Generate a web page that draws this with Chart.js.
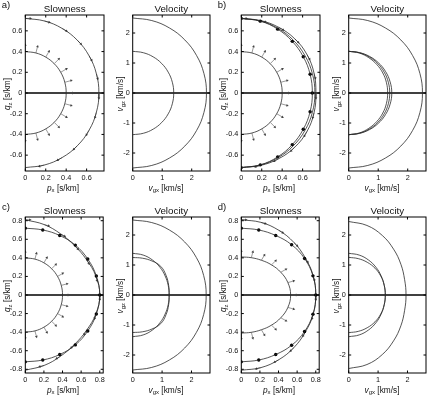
<!DOCTYPE html>
<html lang="en">
<head>
<meta charset="utf-8">
<title>Slowness and velocity</title>
<script src="https://cdn.jsdelivr.net/npm/chart.js"></script>
<style>
  html, body { margin: 0; padding: 0; background: #fff; }
  body { width: 432px; height: 396px; position: relative; overflow: hidden;
         font-family: "Liberation Sans", Arial, sans-serif; color: #111; }
  canvas { position: absolute; }
  .lbl { position: absolute; white-space: nowrap; line-height: 1; transform: translate(-50%, -50%); }
  .letter { font-size: 9.5px; }
  .title { font-size: 9.8px; }
  .xt { font-size: 8.3px; }
  .yt { font-size: 8.3px; transform: translate(-50%, -50%) rotate(-90deg); }
  sub { font-size: 72%; vertical-align: baseline; position: relative; top: 0.3em; }
</style>
</head>
<body>
<script>
    // sample angles of every curve, degrees from the px axis
    const angles = [90, 75, 60, 45, 30, 15, 0, -15, -30, -45, -60, -75, -90];

    // a) isotropic
    const aSlowP  = [0.40, 0.40, 0.40, 0.40, 0.40, 0.40, 0.40, 0.40, 0.40, 0.40, 0.40, 0.40, 0.40];
    const aSlowS  = [0.72, 0.72, 0.72, 0.72, 0.72, 0.72, 0.72, 0.72, 0.72, 0.72, 0.72, 0.72, 0.72];
    const aVelP   = [2.50, 2.50, 2.50, 2.50, 2.50, 2.50, 2.50, 2.50, 2.50, 2.50, 2.50, 2.50, 2.50];
    const aVelS   = [1.39, 1.39, 1.39, 1.39, 1.39, 1.39, 1.39, 1.39, 1.39, 1.39, 1.39, 1.39, 1.39];

    // b)
    const bSlowP  = [0.40, 0.40, 0.40, 0.40, 0.40, 0.40, 0.40, 0.40, 0.40, 0.40, 0.40, 0.40, 0.40];
    const bSlowS  = [0.72, 0.72, 0.72, 0.72, 0.72, 0.72, 0.72, 0.72, 0.72, 0.72, 0.72, 0.72, 0.72];
    const bSlowSH = [0.720, 0.718, 0.712, 0.705, 0.700, 0.697, 0.695, 0.697, 0.700, 0.705, 0.712, 0.718, 0.720];
    const bSlowSV = [0.720, 0.724, 0.732, 0.740, 0.742, 0.737, 0.730, 0.737, 0.742, 0.740, 0.732, 0.724, 0.720];
    const bVelP   = [2.50, 2.50, 2.50, 2.50, 2.50, 2.50, 2.50, 2.50, 2.50, 2.50, 2.50, 2.50, 2.50];
    const bVelS   = [1.39, 1.39, 1.39, 1.39, 1.39, 1.39, 1.39, 1.39, 1.39, 1.39, 1.39, 1.39, 1.39];
    const bVelSH  = [1.390, 1.395, 1.410, 1.425, 1.440, 1.452, 1.460, 1.452, 1.440, 1.425, 1.410, 1.395, 1.390];
    const bVelSV  = [1.390, 1.380, 1.360, 1.345, 1.335, 1.325, 1.320, 1.325, 1.335, 1.345, 1.360, 1.380, 1.390];

    // c)
    const cSlowP  = [0.40, 0.40, 0.40, 0.40, 0.40, 0.40, 0.40, 0.40, 0.40, 0.40, 0.40, 0.40, 0.40];
    const cSlowSH = [0.720, 0.725, 0.740, 0.760, 0.775, 0.790, 0.800, 0.790, 0.775, 0.760, 0.740, 0.725, 0.720];
    const cSlowSV = [0.810, 0.785, 0.760, 0.750, 0.760, 0.785, 0.800, 0.785, 0.760, 0.750, 0.760, 0.785, 0.810];
    const cVelP   = [2.50, 2.50, 2.50, 2.50, 2.50, 2.50, 2.50, 2.50, 2.50, 2.50, 2.50, 2.50, 2.50];
    const cVelSH  = [1.390, 1.378, 1.347, 1.310, 1.273, 1.250, 1.240, 1.250, 1.273, 1.310, 1.347, 1.378, 1.390];
    const cVelSV  = [1.250, 1.270, 1.310, 1.350, 1.310, 1.265, 1.240, 1.265, 1.310, 1.350, 1.310, 1.270, 1.250];

    // d)
    const dSlowP  = [0.410, 0.416, 0.432, 0.459, 0.490, 0.518, 0.530, 0.518, 0.490, 0.459, 0.432, 0.416, 0.410];
    const dSlowSH = [0.720, 0.725, 0.740, 0.765, 0.785, 0.797, 0.800, 0.797, 0.785, 0.765, 0.740, 0.725, 0.720];
    const dSlowSV = [0.810, 0.810, 0.805, 0.800, 0.795, 0.800, 0.800, 0.800, 0.795, 0.800, 0.805, 0.810, 0.810];
    const dVelP   = [2.45, 2.40, 2.29, 2.16, 2.05, 1.97, 1.95, 1.97, 2.05, 2.16, 2.29, 2.40, 2.45];
    const dVelSH  = [1.390, 1.378, 1.347, 1.310, 1.275, 1.252, 1.245, 1.252, 1.275, 1.310, 1.347, 1.378, 1.390];
    const dVelSV  = [1.255, 1.255, 1.260, 1.265, 1.260, 1.250, 1.245, 1.250, 1.260, 1.265, 1.260, 1.255, 1.255];

    // tick labels
    const slowXTicksTop = [0, 0.2, 0.4, 0.6];
    const slowYTicksTop = [-0.6, -0.4, -0.2, 0, 0.2, 0.4, 0.6];
    const slowXTicksBot = [0, 0.2, 0.4, 0.6, 0.8];
    const slowYTicksBot = [-0.8, -0.6, -0.4, -0.2, 0, 0.2, 0.4, 0.6, 0.8];
    const velXTicks = [0, 1, 2];
    const velYTicks = [-2, -1, 0, 1, 2];

    const FONT = '"Liberation Sans", Arial, sans-serif';
    const rad = d => d * Math.PI / 180;

    function curve(r) {
        return angles.map((t, i) => ({ x: r[i] * Math.cos(rad(t)), y: r[i] * Math.sin(rad(t)) }));
    }

    function line(r) {
        return { data: curve(r), showLine: true, borderColor: '#2a2a2a', borderWidth: 0.8,
                 pointRadius: 0, tension: 0.4 };
    }

    function dots(r) {
        return { data: curve(r), showLine: false, pointRadius: 1.7, pointBackgroundColor: '#000',
                 pointBorderWidth: 0 };
    }

    // small polarisation arrows: turn 0 = normal (P), -90 = along the curve (SV)
    function arrows(r, turn, len) {
        const pts = [], sizes = [], rots = [];
        angles.forEach((t, i) => {
            const x0 = r[i] * Math.cos(rad(t)), y0 = r[i] * Math.sin(rad(t));
            const phi = t + turn;
            pts.push({ x: x0, y: y0 },
                     { x: x0 + len * Math.cos(rad(phi)), y: y0 + len * Math.sin(rad(phi)) },
                     { x: null, y: null });
            sizes.push(0, 1.6, 0);
            rots.push(0, 90 - phi, 0);
        });
        return { data: pts, showLine: true, spanGaps: false, borderColor: '#555', borderWidth: 0.6,
                 tension: 0, pointStyle: 'triangle', pointRadius: sizes, pointRotation: rots,
                 pointBackgroundColor: '#444', pointBorderWidth: 0 };
    }

    // box, inward ticks and the thick zero line
    const frame = {
        id: 'frame',
        beforeDatasetsDraw(chart) {
            const { ctx, chartArea: a, scales: { y } } = chart;
            const y0 = y.getPixelForValue(0);
            ctx.save();
            ctx.strokeStyle = '#000';
            ctx.lineWidth = 1.6;
            ctx.beginPath();
            ctx.moveTo(a.left, y0);
            ctx.lineTo(a.right, y0);
            ctx.stroke();
            ctx.restore();
        },
        afterDraw(chart) {
            const { ctx, chartArea: a, scales: { x, y } } = chart;
            ctx.save();
            ctx.strokeStyle = '#000';
            ctx.lineWidth = 1;
            ctx.strokeRect(a.left, a.top, a.right - a.left, a.bottom - a.top);
            ctx.beginPath();
            x.ticks.forEach(t => {
                const p = x.getPixelForValue(t.value);
                ctx.moveTo(p, a.bottom); ctx.lineTo(p, a.bottom - 2.5);
                ctx.moveTo(p, a.top); ctx.lineTo(p, a.top + 2.5);
            });
            y.ticks.forEach(t => {
                const p = y.getPixelForValue(t.value);
                ctx.moveTo(a.left, p); ctx.lineTo(a.left + 2.5, p);
                ctx.moveTo(a.right, p); ctx.lineTo(a.right - 2.5, p);
            });
            ctx.stroke();
            ctx.restore();
        }
    };

    function axis(min, max, ticks, fit) {
        return {
            type: 'linear', min: min, max: max,
            grid: { display: false, drawTicks: false },
            border: { display: false },
            afterBuildTicks: s => { s.ticks = ticks.map(v => ({ value: v })); },
            afterFit: fit,
            ticks: { autoSkip: false, maxRotation: 0, padding: 3, color: '#111',
                     font: { family: FONT, size: 7.3 }, callback: v => String(v) }
        };
    }

    function makeChart(left, top, w, o) {
        const cv = document.createElement('canvas');
        cv.width = w; cv.height = 196;
        cv.style.left = left + 'px'; cv.style.top = top + 'px';
        document.body.appendChild(cv);
        new Chart(cv, {
            type: 'scatter',
            data: { datasets: o.datasets },
            options: {
                responsive: false, animation: false, devicePixelRatio: 1, events: [],
                layout: { padding: { top: 15, right: o.padRight, left: 0, bottom: 0 } },
                plugins: { legend: { display: false }, tooltip: { enabled: false } },
                scales: {
                    x: axis(0, o.xMax, o.xTicks, s => { s.height = 196 - 15 - o.boxH; }),
                    y: axis(-o.yMax, o.yMax, o.yTicks, s => { s.width = o.leftW; })
                }
            },
            plugins: [frame]
        });
    }

    function label(html, cls, x, y) {
        const d = document.createElement('div');
        d.className = 'lbl ' + cls;
        d.innerHTML = html;
        d.style.left = x + 'px';
        d.style.top = y + 'px';
        document.body.appendChild(d);
    }

    const panels = [
        { key: 'a', dx: 0, dy: 0, slowX: 0.77, slowY: 0.753, slowXT: slowXTicksTop, slowYT: slowYTicksTop, velX: 2.62,
          slow: [line(aSlowP), arrows(aSlowP, 0, 0.065), line(aSlowS), arrows(aSlowS, -90, 0.05)],
          vel: [line(aVelP), line(aVelS)] },
        { key: 'b', dx: 216, dy: 0, slowX: 0.77, slowY: 0.753, slowXT: slowXTicksTop, slowYT: slowYTicksTop, velX: 2.62,
          slow: [line(bSlowP), arrows(bSlowP, 0, 0.065), line(bSlowS), line(bSlowSH), dots(bSlowSH),
                 line(bSlowSV), arrows(bSlowSV, -90, 0.05)],
          vel: [line(bVelP), line(bVelS), line(bVelSH), line(bVelSV)] },
        { key: 'c', dx: 0, dy: 202, slowX: 0.837, slowY: 0.84, slowXT: slowXTicksBot, slowYT: slowYTicksBot, velX: 2.63,
          slow: [line(cSlowP), arrows(cSlowP, 0, 0.065), line(cSlowSH), dots(cSlowSH),
                 line(cSlowSV), arrows(cSlowSV, -90, 0.05)],
          vel: [line(cVelP), line(cVelSH), line(cVelSV)] },
        { key: 'd', dx: 216, dy: 202, slowX: 0.837, slowY: 0.84, slowXT: slowXTicksBot, slowYT: slowYTicksBot, velX: 2.63,
          slow: [line(dSlowP), arrows(dSlowP, 0, 0.065), line(dSlowSH), dots(dSlowSH),
                 line(dSlowSV), arrows(dSlowSV, -90, 0.05)],
          vel: [line(dVelP), line(dVelSH), line(dVelSV)] }
    ];

    panels.forEach(p => {
        // slowness box: x 25.3..104, velocity box: x 132.7..210, both 156 px high
        makeChart(p.dx, p.dy, 108, { datasets: p.slow, xMax: p.slowX, yMax: p.slowY,
            xTicks: p.slowXT, yTicks: p.slowYT, leftW: 25.3, padRight: 4, boxH: 156 });
        makeChart(p.dx + 108, p.dy, 108, { datasets: p.vel, xMax: p.velX, yMax: 2.6,
            xTicks: velXTicks, yTicks: velYTicks, leftW: 24.7, padRight: 6, boxH: 156 });

        label(p.key + ')', 'letter', p.dx + 6, p.dy + 5);
        label('Slowness', 'title', p.dx + 64.7, p.dy + 8.5);
        label('Velocity', 'title', p.dx + 171.3, p.dy + 8.5);
        label('<i>p</i><sub>x</sub> [s/km]', 'xt', p.dx + 63, p.dy + 187.5);
        label('<i>v</i><sub>gx</sub> [km/s]', 'xt', p.dx + 166, p.dy + 187.5);
        label('<i>q</i><sub>z</sub> [s/km]', 'yt', p.dx + 6.5, p.dy + 93.5);
        label('<i>v</i><sub>gz</sub> [km/s]', 'yt', p.dx + 119.5, p.dy + 93.5);
    });
</script>
</body>
</html>
